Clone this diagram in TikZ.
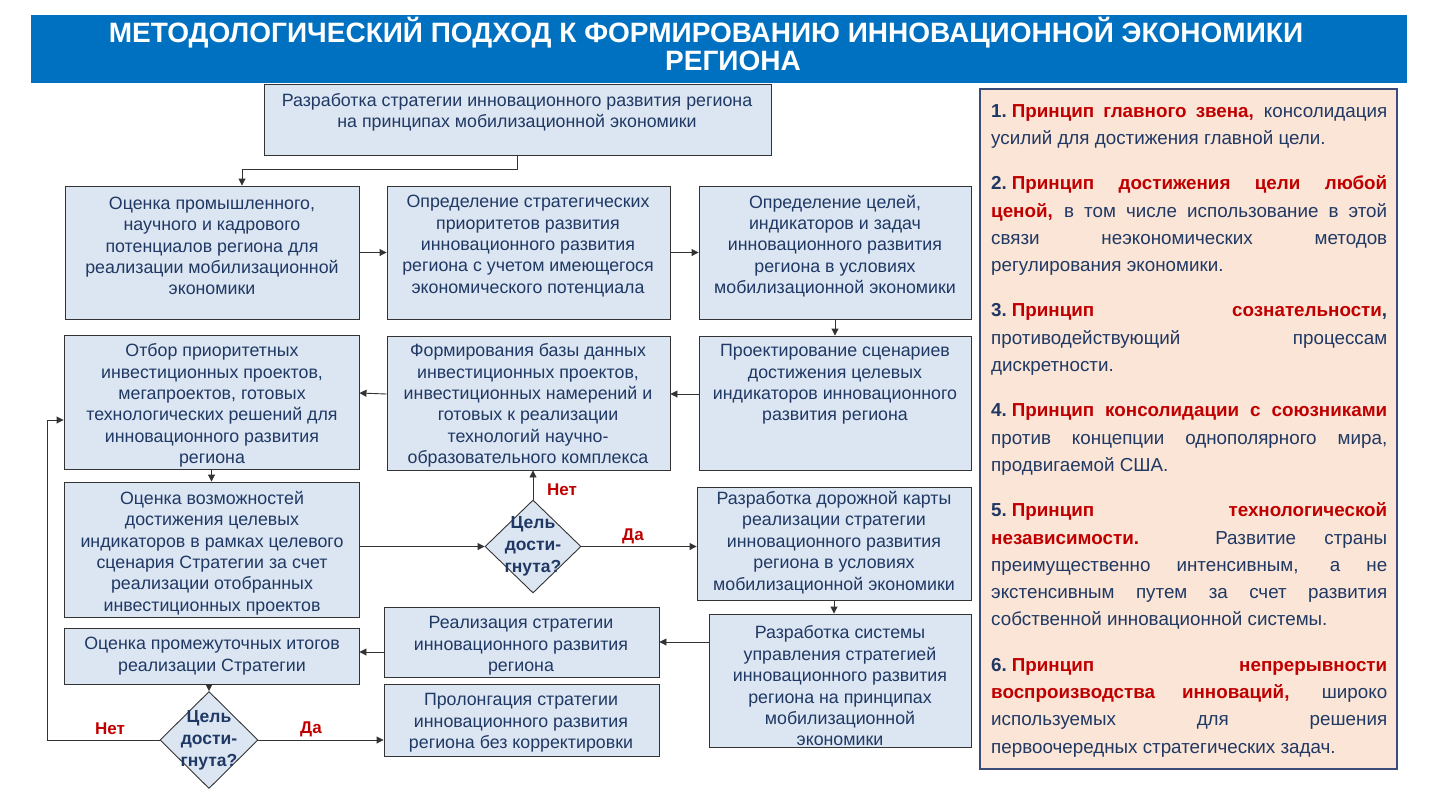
\documentclass[tikz,border=0pt]{standalone}
\usepackage{fontspec}
\setmainfont{Liberation Sans}
\usetikzlibrary{shapes.geometric,arrows.meta,calc,fit}
\definecolor{barblue}{HTML}{0070C0}
\definecolor{boxfill}{HTML}{DCE6F2}
\definecolor{navy}{HTML}{1F3864}
\definecolor{pred}{HTML}{C00000}
\definecolor{peach}{HTML}{FBE5D6}
\definecolor{panelborder}{HTML}{3A4C7A}
\definecolor{edge}{HTML}{333333}
\newcommand{\fullln}[1]{\makebox[396pt][s]{#1}}
\newcommand{\rb}[1]{\textcolor{pred}{\textbf{#1}}}
\newcommand{\nb}[1]{\textbf{#1}}
\begin{document}
\begin{tikzpicture}[x=1pt,y=-1pt,
  box/.style={draw=edge, line width=0.9pt, fill=boxfill, rectangle, inner sep=0pt},
  btxt/.style={align=center, text=navy, font=\fontsize{17.8}{21.4}\selectfont, inner sep=0pt},
  dia/.style={diamond, draw=edge, line width=0.9pt, fill=boxfill, inner sep=0pt},
  dtxt/.style={align=center, text=navy, font=\bfseries\fontsize{17.5}{22}\selectfont, inner sep=0pt},
  lab/.style={text=pred, font=\bfseries\fontsize{17}{20}\selectfont, inner sep=0pt},
  arr/.style={draw=edge, line width=0.9pt, -{Triangle[length=7pt,width=7pt]}},
]
\useasboundingbox (0,0) rectangle (1448,796);
% title
\node[fill=barblue, inner sep=0pt, fit={(31,15) (1407,83)}] (bar) {};
\node[text=white, font=\bfseries\fontsize{28}{27.5}\selectfont, align=center, inner sep=0pt] (title) at (719.5,44)
  {МЕТОДОЛОГИЧЕСКИЙ ПОДХОД К ФОРМИРОВАНИЮ ИННОВАЦИОННОЙ ЭКОНОМИКИ\kern27pt\\\kern27pt РЕГИОНА};
% boxes
\node[box, fit={(264,84) (771,155)}] (b0) {};
\node[btxt] (b0t) at (517,112.5) {Разработка стратегии инновационного развития региона\\на принципах мобилизационной экономики};
\node[box, fit={(65,186) (359,319)}] (a1) {};
\node[btxt] (a1t) at (212,246) {Оценка промышленного,\\научного и кадрового\\потенциалов региона для\\реализации мобилизационной\\экономики};
\node[box, fit={(387,186) (670,319)}] (a2) {};
\node[btxt] (a2t) at (528,246) {Определение стратегических\\приоритетов развития\\инновационного развития\\региона с учетом имеющегося\\экономического потенциала};
\node[box, fit={(699,186) (971,319)}] (a3) {};
\node[btxt] (a3t) at (835,246) {Определение целей,\\индикаторов и задач\\инновационного развития\\региона в условиях\\мобилизационной экономики};
\node[box, fit={(64,335) (359,469)}] (b1) {};
\node[btxt] (b1t) at (212,405.5) {Отбор приоритетных\\инвестиционных проектов,\\мегапроектов, готовых\\технологических решений для\\инновационного развития\\региона};
\node[box, fit={(387,336) (670,470)}] (b2) {};
\node[btxt] (b2t) at (528,405.5) {Формирования базы данных\\инвестиционных проектов,\\инвестиционных намерений и\\готовых к реализации\\технологий научно-\\образовательного комплекса};
\node[box, fit={(699,336) (971,470)}] (b3) {};
\node[btxt] (b3t) at (835,384.5) {Проектирование сценариев\\достижения целевых\\индикаторов инновационного\\развития региона};
\node[box, fit={(64,482) (359,617)}] (c1) {};
\node[btxt] (c1t) at (212,553) {Оценка возможностей\\достижения целевых\\индикаторов в рамках целевого\\сценария Стратегии за счет\\реализации отобранных\\инвестиционных проектов};
\node[box, fit={(697,487) (971,600)}] (dk) {};
\node[btxt] (dkt) at (834,542.5) {Разработка дорожной карты\\реализации стратегии\\инновационного развития\\региона в условиях\\мобилизационной экономики};
\node[box, fit={(709,614) (971,747)}] (d2) {};
\node[btxt] (d2t) at (840,686) {Разработка системы\\управления стратегией\\инновационного развития\\региона на принципах\\мобилизационной\\экономики};
\node[box, fit={(384,607) (659,677)}] (r1) {};
\node[btxt] (r1t) at (521,646) {Реализация стратегии\\инновационного развития\\региона};
\node[box, fit={(64,628) (359,684)}] (e1) {};
\node[btxt] (e1t) at (212,656) {Оценка промежуточных итогов\\реализации Стратегии};
\node[box, fit={(384,684) (659,756)}] (p1) {};
\node[btxt] (p1t) at (521,723) {Пролонгация стратегии\\инновационного развития\\региона без корректировки};
% diamonds
\node[dia, minimum width=96pt, minimum height=93pt] (d1) at (533,546.5) {};
\node[dtxt] (d1t) at (533,546) {Цель\\дости-\\гнута?};
\node[dia, minimum width=98pt, minimum height=97pt] (d3) at (209,740) {};
\node[dtxt] (d3t) at (209,740) {Цель\\дости-\\гнута?};
% labels
\node[lab] (no1) at (562,490) {Нет};
\node[lab] (yes1) at (633,536) {Да};
\node[lab] (no2) at (110,729) {Нет};
\node[lab] (yes2) at (311,729) {Да};
\coordinate (lp) at (47,0);
% connectors
\draw[arr] (b0.south) -- ++(0,14) -| ($(a1.north)+(30,0)$);
\draw[arr] (a1) -- (a2);
\draw[arr] (a2) -- (a3);
\draw[arr] (a3.south) -- (b3.north);
\draw[arr] ([yshift=9pt]b3.west) -- ([yshift=9pt]b2.east);
\draw[arr] ([yshift=9pt]b2.west) -- ([yshift=9pt]b1.east);
\draw[arr] (b1.south) -- (c1.north);
\draw[arr] (c1.east |- d1.west) -- (d1.west);
\draw[arr] (d1.north) -- (d1.north |- b2.south);
\draw[arr] (d1.east) -- (d1.east -| dk.west);
\draw[arr] (dk.south) -- (dk.south |- d2.north);
\draw[arr] (d2.west |- r1.east) -- (r1.east);
\draw[arr] ([yshift=-10pt]r1.west) -- ([yshift=-10pt]r1.west -| e1.east);
\draw[arr] (d3.north |- e1.south) -- (d3.north);
\draw[arr] (d3.west) -- (d3.west -| lp) |- ([yshift=-18pt]b1.west);
\draw[arr] (d3.east) -- (d3.east -| p1.west);
% panel
\node[draw=panelborder, line width=1.5pt, fill=peach, inner sep=0pt, fit={(980,89) (1397,769)}] (panel) {};
\node[anchor=north west, inner sep=0pt, text=navy, align=left, font=\fontsize{18.8}{27.3}\selectfont] (ptxt) at (991,104) {%
\fullln{\nb{1.}\hspace{5pt}\rb{Принцип главного звена,} консолидация}\\
усилий для достижения главной цели.\\[18pt]
\fullln{\nb{2.}\hspace{5pt}\rb{Принцип достижения цели любой}}\\
\fullln{\rb{ценой,} в том числе использование в этой}\\
\fullln{связи неэкономических методов}\\
регулирования экономики.\\[18pt]
\fullln{\nb{3.}\hspace{5pt}\rb{Принцип сознательности}\nb{,}}\\
\fullln{противодействующий процессам}\\
дискретности.\\[18pt]
\fullln{\nb{4.}\hspace{5pt}\rb{Принцип консолидации с союзниками}}\\
\fullln{против концепции однополярного мира,}\\
продвигаемой США.\\[18pt]
\fullln{\nb{5.}\hspace{5pt}\rb{Принцип технологической}}\\
\fullln{\rb{независимости.} Развитие страны}\\
\fullln{преимущественно интенсивным, а не}\\
\fullln{экстенсивным путем за счет развития}\\
собственной инновационной системы.\\[18pt]
\fullln{\nb{6.}\hspace{5pt}\rb{Принцип непрерывности}}\\
\fullln{\rb{воспроизводства инноваций,} широко}\\
\fullln{используемых для решения}\\
первоочередных стратегических задач.};
\end{tikzpicture}
\end{document}
